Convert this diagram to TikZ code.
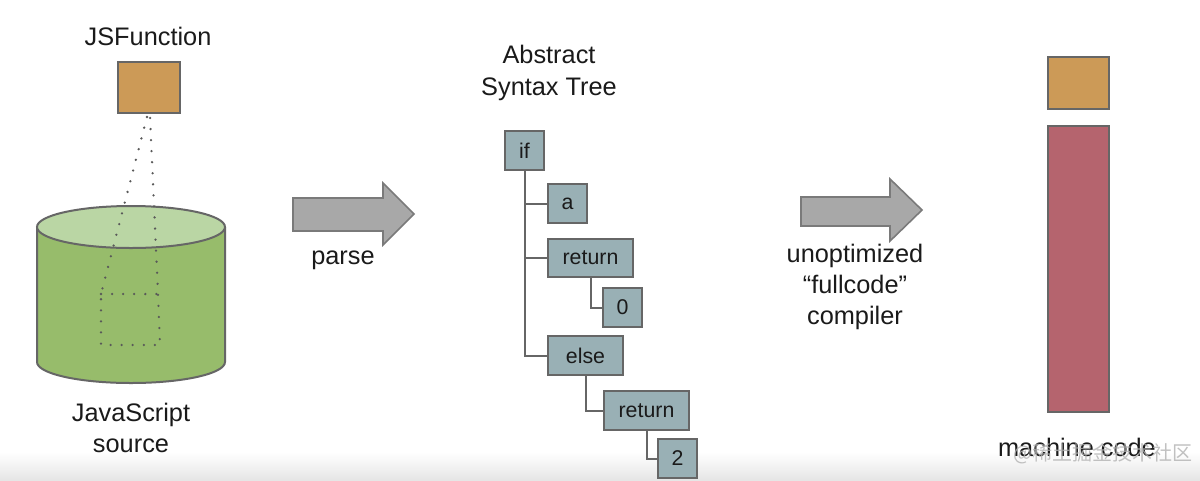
\documentclass[tikz,border=0pt]{standalone}
\usepackage{fontspec}
\setmainfont{Liberation Sans}
\newfontfamily\cjkfont{Noto Sans CJK SC}
\definecolor{boxorange}{HTML}{CC9A57}
\definecolor{cylbody}{HTML}{97BC6B}
\definecolor{cyltop}{HTML}{BAD6A4}
\definecolor{astfill}{HTML}{99B0B5}
\definecolor{arrowfill}{HTML}{A8A8A8}
\definecolor{arrowline}{HTML}{7A7A7A}
\definecolor{barred}{HTML}{B5646E}
\definecolor{edgegray}{HTML}{666666}
\definecolor{txt}{HTML}{1A1A1A}
\begin{document}
\begin{tikzpicture}[x=0.75pt,y=-0.75pt,
  lbl/.style={font=\fontsize{19}{23.5}\selectfont, text=txt, align=center, inner sep=0pt},
  astbox/.style={draw=edgegray, fill=astfill, line width=1.5pt, minimum height=29pt, inner sep=0pt,
     font=\fontsize{16}{19}\selectfont, text=txt},
  tree/.style={draw=edgegray, line width=1.5pt},
  solidbox/.style={draw=edgegray, line width=1.5pt, inner sep=0pt},
  bigarrow/.style={fill=arrowfill, draw=arrowline, line width=1.2pt, line join=miter},
  dots/.style={draw=black!65, line width=1.9pt, line cap=round, dash pattern=on 0pt off 8.3pt}
]
\useasboundingbox (0,0) rectangle (1200,480);
\fill[white] (0,0) rectangle (1200,480);
\shade[top color=white, bottom color=black!10] (0,452) rectangle (1200,480);

% ---- left: JSFunction and cylinder ----
\node[lbl] (jsflabel) at (148,36) {JSFunction};
\node[solidbox, fill=boxorange, minimum width=46.5pt, minimum height=38.25pt] (jsf) at (149,87.5) {};

% cylinder body
\fill[cylbody] (37,227) -- (37,362) .. controls (37,373.6) and (79,383) .. (131,383)
   .. controls (183,383) and (225,373.6) .. (225,362) -- (225,227) -- cycle;
\draw[edgegray, line width=1.5pt] (37,227) -- (37,362) .. controls (37,373.6) and (79,383) .. (131,383)
   .. controls (183,383) and (225,373.6) .. (225,362) -- (225,227);
\draw[edgegray, line width=1.5pt, fill=cyltop] (131,227) ellipse [x radius=94, y radius=21];
\node[inner sep=0pt, minimum size=0pt] (cyl) at (131,300) {};

% dotted projection
\coordinate (dl) at (147,117);
\coordinate (dr) at (150,117);
\coordinate (qtl) at (101,294);
\coordinate (qtr) at (158,294);
\coordinate (qbl) at (101,345);
\coordinate (qbr) at (160,345);
\draw[dots] (dl) -- (qtl) -- (qbl) -- (qbr) -- (qtr) -- (dr);
\draw[dots] (qtl) -- (qtr);

\node[lbl] (jssrc) at (131,428) {JavaScript\\source};

% ---- parse arrow ----
\draw[bigarrow] (293,198) -- (383,198) -- (383,183) -- (414,214) -- (383,245) -- (383,231) -- (293,231) -- cycle;
\node[lbl] (parse) at (343,260) {parse};

% ---- AST ----
\node[lbl] (asttitle) at (549,73) {Abstract\\Syntax Tree};
\node[astbox, minimum width=29.25pt] (nif) at (524.5,150.5) {if};
\node[astbox, minimum width=29.25pt] (na) at (567.5,203.5) {a};
\node[astbox, minimum width=63.75pt] (nret) at (590.5,258) {return};
\node[astbox, minimum width=29.25pt] (nzero) at (622.5,307.5) {0};
\node[astbox, minimum width=56.25pt] (nelse) at (585.5,355.5) {else};
\node[astbox, minimum width=63.75pt] (nret2) at (646.5,410.5) {return};
\node[astbox, minimum width=29.25pt] (ntwo) at (677.5,458.5) {2};

\draw[tree] (nif.south) -- (nif.south |- nelse.west) -- (nelse.west);
\draw[tree] (nif.south |- na.west) -- (na.west);
\draw[tree] (nif.south |- nret.west) -- (nret.west);
\draw[tree] (nret.south) -- (nret.south |- nzero.west) -- (nzero.west);
\draw[tree] (nelse.south) -- (nelse.south |- nret2.west) -- (nret2.west);
\draw[tree] (nret2.south) -- (nret2.south |- ntwo.west) -- (ntwo.west);

% ---- compiler arrow ----
\draw[bigarrow] (801,197) -- (890,197) -- (890,179) -- (922,210) -- (890,241) -- (890,226) -- (801,226) -- cycle;
\node[lbl] (comp) at (855,287) {unoptimized\\“fullcode”\\compiler};

% ---- right: machine code ----
\node[solidbox, fill=boxorange, minimum width=45.75pt, minimum height=39pt] (mcfun) at (1078.5,83) {};
\node[solidbox, fill=barred, minimum width=45.75pt, minimum height=214.5pt] (mcbar) at (1078.5,269) {};
\node[lbl] (mclabel) at (1077,447) {machine code};

% watermark
\node[font=\cjkfont\fontsize{15}{18}\selectfont, text=black!30, opacity=0.8, inner sep=0pt] (wm) at (1103,454) {@稀土掘金技术社区};
\end{tikzpicture}
\end{document}
